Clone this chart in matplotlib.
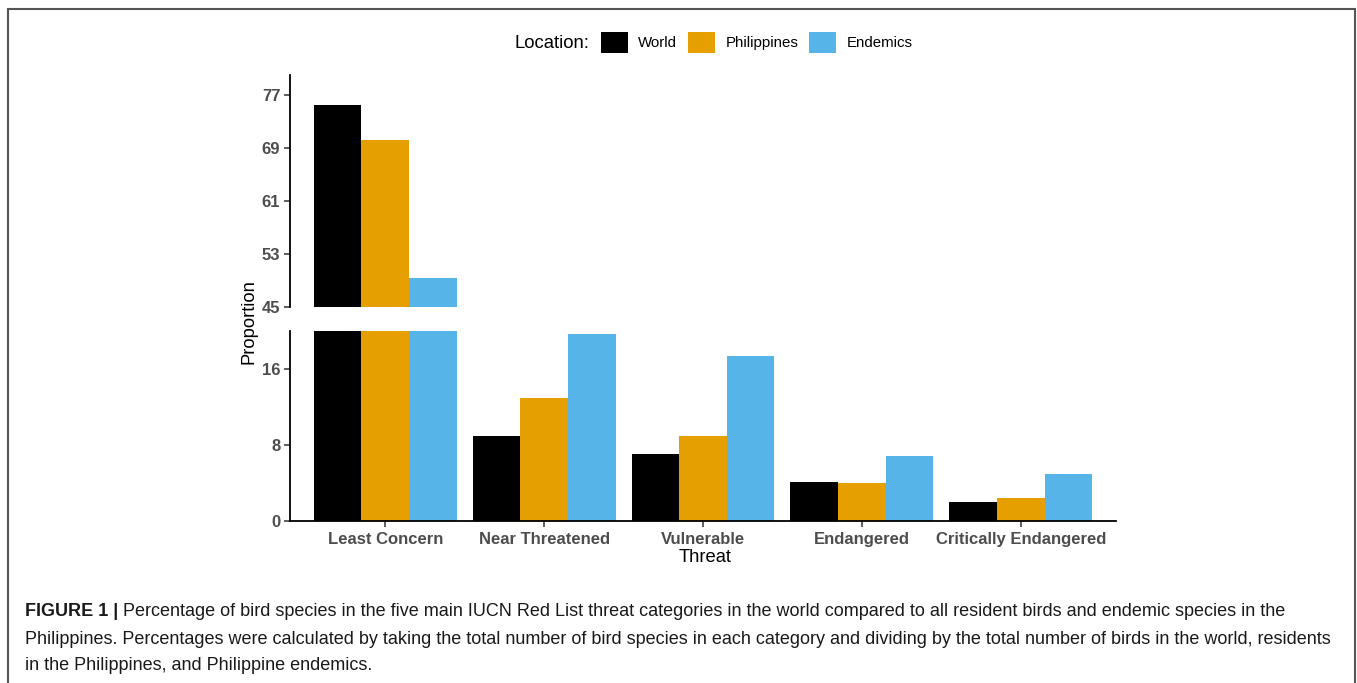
import numpy as np
import matplotlib.pyplot as plt
from matplotlib.patches import Rectangle, Patch

plt.rcParams['font.family'] = ['Liberation Sans', 'DejaVu Sans']

# data (percent)
threats = ['Least Concern', 'Near Threatened', 'Vulnerable', 'Endangered', 'Critically Endangered']
locations = ['World', 'Philippines', 'Endemics']
world = [75.5, 9.0, 7.1, 4.1, 2.0]
philippines = [70.2, 13.0, 9.0, 4.0, 2.4]
endemics = [49.3, 19.7, 17.4, 6.8, 4.9]
colors = ['#000000', '#E69F00', '#56B4E9']

upper_ticks = [45, 53, 61, 69, 77]
lower_ticks = [0, 8, 16]

W, H = 1357, 683
fig = plt.figure(figsize=(W / 100, H / 100), dpi=100)


def fx(px):
    return px / W


def fy(py):
    return 1 - py / H


ax_up = fig.add_axes([fx(290), fy(307), fx(1116) - fx(290), fy(75) - fy(307)])
ax_lo = fig.add_axes([fx(290), fy(521), fx(1116) - fx(290), fy(331) - fy(521)])

tick_size = 12
x = np.arange(len(threats))
bw = 0.3
series = [world, philippines, endemics]
for ax in (ax_up, ax_lo):
    for i, vals in enumerate(series):
        ax.bar(x + (i - 1) * bw, vals, width=bw, color=colors[i], linewidth=0)
    ax.set_xlim(-0.6, len(threats) - 0.4)
    for s in ['top', 'right']:
        ax.spines[s].set_visible(False)
    ax.spines['left'].set_linewidth(1.3)
    ax.spines['bottom'].set_linewidth(1.3)
    ax.tick_params(axis='y', length=4, width=1.1, color='#333333', pad=3,
                   labelsize=tick_size, labelcolor='#4D4D4D')

ax_up.set_ylim(45, 80)
ax_up.set_yticks(upper_ticks)
ax_up.spines['bottom'].set_visible(False)
ax_up.set_xticks([])
for lab in ax_up.get_yticklabels():
    lab.set_fontweight('bold')

ax_lo.set_ylim(0, 20)
ax_lo.set_yticks(lower_ticks)
ax_lo.set_xticks(x)
ax_lo.set_xticklabels(threats, fontsize=tick_size, fontweight='bold', color='#4D4D4D')
ax_lo.tick_params(axis='x', length=4, width=1.1, color='#333333', pad=4)
for lab in ax_lo.get_yticklabels():
    lab.set_fontweight('bold')

fig.text(fx(705), fy(558), 'Threat', ha='center', va='center', fontsize=13.2)
fig.text(fx(249), fy(322), 'Proportion', ha='center', va='center', rotation=90, fontsize=13.2)

# legend
fig.text(fx(515), fy(43), 'Location:', ha='left', va='center', fontsize=13.3)
handles = [Patch(facecolor=c, edgecolor='none') for c in colors]
fig.legend(handles, locations, loc='center left', bbox_to_anchor=(fx(601), fy(42.5)),
           ncol=3, frameon=False, fontsize=10.8, handlelength=1.8, handleheight=1.8,
           handletextpad=0.67, columnspacing=0.75, borderpad=0, borderaxespad=0)

# caption
caption = [
    'Percentage of bird species in the five main IUCN Red List threat categories in the world compared to all resident birds and endemic species in the',
    'Philippines. Percentages were calculated by taking the total number of bird species in each category and dividing by the total number of birds in the world, residents',
    'in the Philippines, and Philippine endemics.',
]
cap_size = 13
cap_color = '#1a1a1a'
bold = fig.text(fx(25), fy(611), 'FIGURE 1 |', ha='left', va='center', fontsize=cap_size,
                fontweight='bold', color=cap_color)
r = fig.canvas.get_renderer()
bb = bold.get_window_extent(renderer=r)
fig.text(bb.x1 / W + fx(5), fy(611), caption[0], ha='left', va='center', fontsize=cap_size, color=cap_color)
fig.text(fx(25), fy(639), caption[1], ha='left', va='center', fontsize=cap_size, color=cap_color)
fig.text(fx(25), fy(666), caption[2], ha='left', va='center', fontsize=cap_size, color=cap_color)

# frame around the figure
fig.patches.append(Rectangle((fx(8), fy(700)), fx(1355) - fx(8), fy(9) - fy(700),
                             transform=fig.transFigure, fill=False, edgecolor='#555555',
                             linewidth=1.5))

fig.savefig('out.png', dpi=100)
